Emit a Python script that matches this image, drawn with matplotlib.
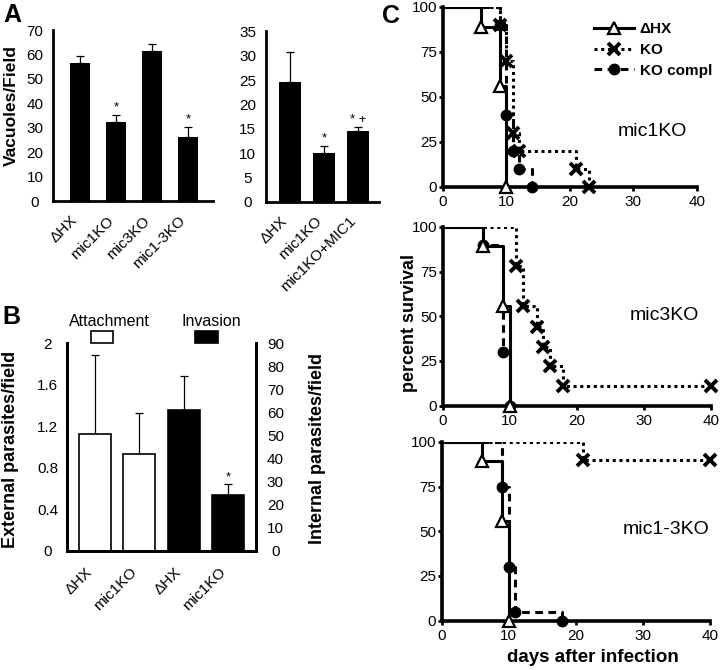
import matplotlib
matplotlib.use('Agg')
import matplotlib.pyplot as plt
from matplotlib.patches import Rectangle
from matplotlib.lines import Line2D

plt.rcParams['font.family'] = ['Liberation Sans', 'DejaVu Sans']

# ---- panel A data ----
a1_labels = ['ΔHX', 'mic1KO', 'mic3KO', 'mic1-3KO']
a1_vals = [56.5, 32.3, 61.5, 26.3]
a1_err = [2.9, 2.9, 3.0, 4.1]
a1_marks = ['', '*', '', '*']

a2_labels = ['ΔHX', 'mic1KO', 'mic1KO+MIC1']
a2_vals = [24.7, 10.0, 14.6]
a2_err = [6.1, 1.5, 0.7]
a2_marks = ['', '*', '* +']

# ---- panel B data ----
b_labels = ['ΔHX', 'mic1KO', 'ΔHX', 'mic1KO']
attach_vals = [1.13, 0.93]
attach_err = [0.76, 0.40]
invas_vals = [61.0, 24.2]
invas_err = [14.9, 4.6]

# ---- panel C data (days, percent survival) ----
c1_hx_t, c1_hx_s = [0, 6, 9, 10], [100, 89, 56, 0]
c1_ko_t, c1_ko_s = [0, 9, 10, 11, 12, 21, 23], [100, 90, 70, 30, 20, 10, 0]
c1_kc_t, c1_kc_s = [0, 9, 10, 11, 12, 14], [100, 90, 40, 20, 10, 0]

c2_hx_t, c2_hx_s = [0, 6, 9, 10], [100, 89, 56, 0]
c2_ko_t, c2_ko_s = [0, 11, 12, 14, 15, 16, 18, 40], [100, 78, 56, 44, 33, 22, 11, 11]
c2_kc_t, c2_kc_s = [0, 6, 9, 10], [100, 90, 30, 0]

c3_hx_t, c3_hx_s = [0, 6, 9, 10], [100, 89, 56, 0]
c3_ko_t, c3_ko_s = [0, 21, 40], [100, 90, 90]
c3_kc_t, c3_kc_s = [0, 9, 10, 11, 18], [100, 75, 30, 5, 0]

c_names = ['mic1KO', 'mic3KO', 'mic1-3KO']

TICK = 11

fig = plt.figure(figsize=(7.2, 6.7), dpi=100)
W, H = 720.0, 670.0


def px(x, y):
    return x / W, 1 - y / H


def bar_style(ax, lw=2.0):
    for s in ['top', 'right']:
        ax.spines[s].set_visible(False)
    for s in ['left', 'bottom']:
        ax.spines[s].set_linewidth(lw)
    ax.tick_params(length=0, labelsize=TICK)


def bar_labels(ax, labels, pad):
    ax.set_xticks(range(len(labels)))
    ax.set_xticklabels(labels, rotation=45, ha='right', fontsize=TICK)
    ax.tick_params(axis='x', pad=pad)


def err_bars(ax, xs, vals, errs, marks=None):
    ax.errorbar(xs, vals, yerr=[[0] * len(vals), errs], fmt='none',
                ecolor='k', elinewidth=0.9, capsize=3, capthick=0.9, zorder=1)
    if marks:
        for x, v, e, m in zip(xs, vals, errs, marks):
            if m:
                ax.annotate(m, (x, v + e), xytext=(0, 1), textcoords='offset points',
                            ha='center', va='bottom', fontsize=9.5)


# ---------------- A left ----------------
axA1 = fig.add_axes([0.0736, 0.700, 0.222, 0.255])
x1 = range(len(a1_vals))
axA1.bar(x1, a1_vals, width=0.58, color='k', zorder=2)
err_bars(axA1, x1, a1_vals, a1_err, a1_marks)
axA1.set_xlim(-0.75, 3.69)
axA1.set_ylim(0, 70)
axA1.set_yticks(range(0, 71, 10))
bar_style(axA1)
bar_labels(axA1, a1_labels, 9)
for t in axA1.get_yticklabels():
    t.set_ha('center')
axA1.tick_params(axis='y', pad=13)

# ---------------- A right ----------------
axA2 = fig.add_axes([0.369, 0.699, 0.158, 0.254])
x2 = range(len(a2_vals))
axA2.bar(x2, a2_vals, width=0.64, color='k', zorder=2)
err_bars(axA2, x2, a2_vals, a2_err, a2_marks)
axA2.set_xlim(-0.70, 2.61)
axA2.set_ylim(0, 35)
axA2.set_yticks(range(0, 36, 5))
bar_style(axA2)
bar_labels(axA2, a2_labels, 9)
for t in axA2.get_yticklabels():
    t.set_ha('center')
axA2.tick_params(axis='y', pad=13)

fig.text(*px(11, 106), 'Vacuoles/Field', rotation=90, ha='center', va='center',
         fontsize=12.5, fontweight='bold')
fig.text(*px(12, 15), 'A', ha='center', va='center', fontsize=18, fontweight='bold')

# ---------------- B ----------------
axB = fig.add_axes([0.093, 0.178, 0.2625, 0.3096])
axB2 = axB.twinx()
axB.bar([0, 1], attach_vals, width=0.72, color='white', edgecolor='k', linewidth=1.2, zorder=2)
err_bars(axB, [0, 1], attach_vals, attach_err)
axB2.bar([2, 3], invas_vals, width=0.72, color='k', edgecolor='k', linewidth=1.2, zorder=2)
err_bars(axB2, [2, 3], invas_vals, invas_err, ['', '*'])
axB.set_xlim(-0.63, 3.63)
axB.set_ylim(0, 2)
axB.set_yticks([0, 0.4, 0.8, 1.2, 1.6, 2])
axB.set_yticklabels(['0', '0.4', '0.8', '1.2', '1.6', '2'])
axB2.set_ylim(0, 90)
axB2.set_yticks(range(0, 91, 10))
for a in (axB, axB2):
    a.spines['top'].set_visible(False)
    for s in ['left', 'bottom', 'right']:
        a.spines[s].set_linewidth(2.0)
    a.tick_params(length=0, labelsize=TICK)
for t in axB.get_yticklabels():
    t.set_ha('center')
for t in axB2.get_yticklabels():
    t.set_ha('center')
axB.tick_params(axis='y', pad=14)
axB2.tick_params(axis='y', pad=14)
bar_labels(axB, b_labels, 10)

fig.text(*px(11, 449), 'External parasites/field', rotation=90, ha='center', va='center',
         fontsize=13, fontweight='bold')
fig.text(*px(318, 448), 'Internal parasites/field', rotation=90, ha='center', va='center',
         fontsize=13, fontweight='bold')
fig.text(*px(11, 317), 'B', ha='center', va='center', fontsize=18, fontweight='bold')

# legend for B
fig.text(*px(109, 322), 'Attachment', ha='center', va='center', fontsize=11.5)
fig.text(*px(211, 322), 'Invasion', ha='center', va='center', fontsize=11.5)
lx, ly = px(91, 343)
fig.patches.append(Rectangle((lx, ly), 22 / W, 12 / H, transform=fig.transFigure,
                             facecolor='white', edgecolor='k', linewidth=1.2))
lx, ly = px(195, 343)
fig.patches.append(Rectangle((lx, ly), 23 / W, 12 / H, transform=fig.transFigure,
                             facecolor='k', edgecolor='k', linewidth=1.2))

# ---------------- C ----------------
axC1 = fig.add_axes([0.615, 0.7213, 0.353, 0.2687])
axC2 = fig.add_axes([0.615, 0.3945, 0.372, 0.267])
axC3 = fig.add_axes([0.6135, 0.0736, 0.3725, 0.267])

series = [
    (axC1, (c1_hx_t, c1_hx_s), (c1_ko_t, c1_ko_s), (c1_kc_t, c1_kc_s)),
    (axC2, (c2_hx_t, c2_hx_s), (c2_ko_t, c2_ko_s), (c2_kc_t, c2_kc_s)),
    (axC3, (c3_hx_t, c3_hx_s), (c3_ko_t, c3_ko_s), (c3_kc_t, c3_kc_s)),
]
LW = 2.2
for ax, hx, ko, kc in series:
    t, s = ko
    ax.step(t, s, where='post', color='k', lw=LW, ls=(0, (1, 1.2)), zorder=2)
    ax.plot(t[1:], s[1:], ls='none', marker='x', ms=8.5, mew=2.8, color='k',
            clip_on=False, zorder=4)
    t, s = kc
    ax.step(t, s, where='post', color='k', lw=LW, ls=(0, (2.5, 1.8)), zorder=2)
    ax.plot(t[1:], s[1:], ls='none', marker='o', ms=7.5, color='k',
            clip_on=False, zorder=4)
    t, s = hx
    ax.step(t, s, where='post', color='k', lw=LW, zorder=3)
    ax.plot(t[1:], s[1:], ls='none', marker='^', ms=8.5, mfc='white', mec='k', mew=1.6,
            clip_on=False, zorder=5)
    ax.set_xlim(0, 40)
    ax.set_ylim(0, 100)
    ax.set_xticks(range(0, 41, 10))
    ax.set_yticks([0, 25, 50, 75, 100])
    for sp in ['top', 'right']:
        ax.spines[sp].set_visible(False)
    for sp in ['left', 'bottom']:
        ax.spines[sp].set_linewidth(2.6)
    ax.tick_params(length=3, width=2, labelsize=TICK, pad=1)
    ax.tick_params(axis='x', pad=3)

for ax, name, (x, y) in zip([axC1, axC2, axC3], c_names, [(652, 131), (664, 315), (666, 530)]):
    fig.text(*px(x, y), name, ha='center', va='center', fontsize=14)

handles = [
    Line2D([], [], color='k', lw=LW, marker='^', ms=8.5, mfc='white', mec='k', mew=1.6),
    Line2D([], [], color='k', lw=LW, ls=(0, (1, 1.2)), marker='x', ms=8.5, mew=2.8),
    Line2D([], [], color='k', lw=LW, ls=(0, (2.5, 1.8)), marker='o', ms=7.5),
]
axC1.legend(handles, ['ΔHX', 'KO', 'KO compl'], loc='upper left',
            bbox_to_anchor=px(594, 22), bbox_transform=fig.transFigure,
            frameon=False, handlelength=2.6, handletextpad=0.4, labelspacing=0.45,
            borderpad=0, borderaxespad=0, prop={'weight': 'bold', 'size': 11})

fig.text(*px(410, 323), 'percent survival', rotation=90, ha='center', va='center',
         fontsize=13, fontweight='bold')
fig.text(*px(593, 658), 'days after infection', ha='center', va='center',
         fontsize=13.5, fontweight='bold')
fig.text(*px(391, 16), 'C', ha='center', va='center', fontsize=18, fontweight='bold')

fig.savefig('out.png', dpi=100, facecolor='white')
